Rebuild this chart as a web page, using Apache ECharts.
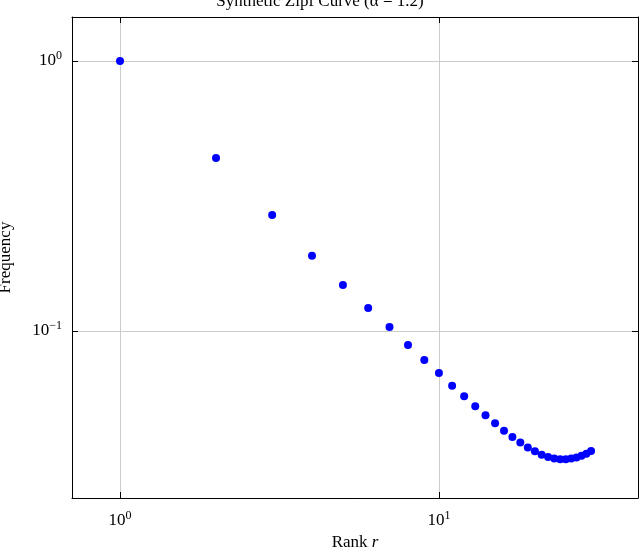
<!DOCTYPE html>
<html><head><meta charset="utf-8">
<script src="https://cdn.jsdelivr.net/npm/echarts@6/dist/echarts.min.js"></script>
<style>html,body{margin:0;padding:0;background:#fff}#c{width:640px;height:547px}</style>
</head><body><div id="c"></div>
<script>
const ranks = [1,2,3,4,5,6,7,8,9,10,11,12,13,14,15,16,17,18,19,20,21,22,23,24,25,26,27,28,29,30];
const freqs = [1.0,0.4375,0.269,0.190,0.148,0.1216,0.1035,0.0887,0.0781,0.0699,0.0627,0.0573,0.0526,0.0487,0.0455,0.0427,0.0405,0.0386,0.0370,0.0358,0.0348,0.0341,0.0337,0.0335,0.0335,0.0337,0.0340,0.0345,0.0351,0.0359];
const titleText = 'Synthetic Zipf Curve (\u03b1 = 1.2)';
const F = 'Liberation Serif';
const chart = echarts.init(document.getElementById('c'));
function pow10(v){const e=Math.round(Math.log10(v));return '{b|10}{s|'+(e<0?'\u2212'+(-e):e)+'}';}
const rich={b:{fontFamily:F,fontSize:17,color:'#000'},s:{fontFamily:F,fontSize:12,color:'#000',verticalAlign:'bottom',padding:[0,0,10,0]}};
const tick={inside:true,length:6,lineStyle:{color:'#000'}};
const line={show:true,lineStyle:{color:'#000'}};
chart.setOption({
  animation:false,
  title:{text:titleText,left:'center',top:-12,textStyle:{fontFamily:F,fontSize:17,fontWeight:'normal',color:'#000'}},
  grid:{left:72,right:2,top:17,bottom:49,containLabel:false,outerBoundsMode:'none'},
  xAxis:[{type:'log',logBase:10,min:0.707,max:42.1,name:'{n|Rank }{i|r}',nameLocation:'middle',nameGap:30,
    nameTextStyle:{rich:{n:{fontFamily:F,fontSize:17,color:'#000'},i:{fontFamily:F,fontSize:17,fontStyle:'italic',color:'#000'}}},
    axisLine:line,axisTick:tick,
    splitLine:{show:true,lineStyle:{color:'#ccc'}},
    axisLabel:{formatter:v=>pow10(v),rich:rich,margin:12,showMinLabel:false,showMaxLabel:false}},
   {type:'log',logBase:10,min:0.707,max:42.1,position:'top',axisLine:line,axisTick:tick,axisLabel:{show:false},splitLine:{show:false}}],
  yAxis:[{type:'log',logBase:10,min:0.02405,max:1.455,name:'Frequency',nameLocation:'middle',nameGap:58,
    nameTextStyle:{fontFamily:F,fontSize:17,color:'#000'},
    axisLine:line,axisTick:tick,
    splitLine:{show:true,lineStyle:{color:'#ccc'}},
    axisLabel:{formatter:v=>pow10(v),rich:rich,margin:10,showMinLabel:false,showMaxLabel:false}},
   {type:'log',logBase:10,min:0.02405,max:1.455,position:'right',axisLine:line,axisTick:tick,axisLabel:{show:false},splitLine:{show:false}}],
  series:[{type:'scatter',data:ranks.map((r,i)=>[r,freqs[i]]),symbolSize:8,itemStyle:{color:'#0000ff',opacity:1}}]
});
</script></body></html>
